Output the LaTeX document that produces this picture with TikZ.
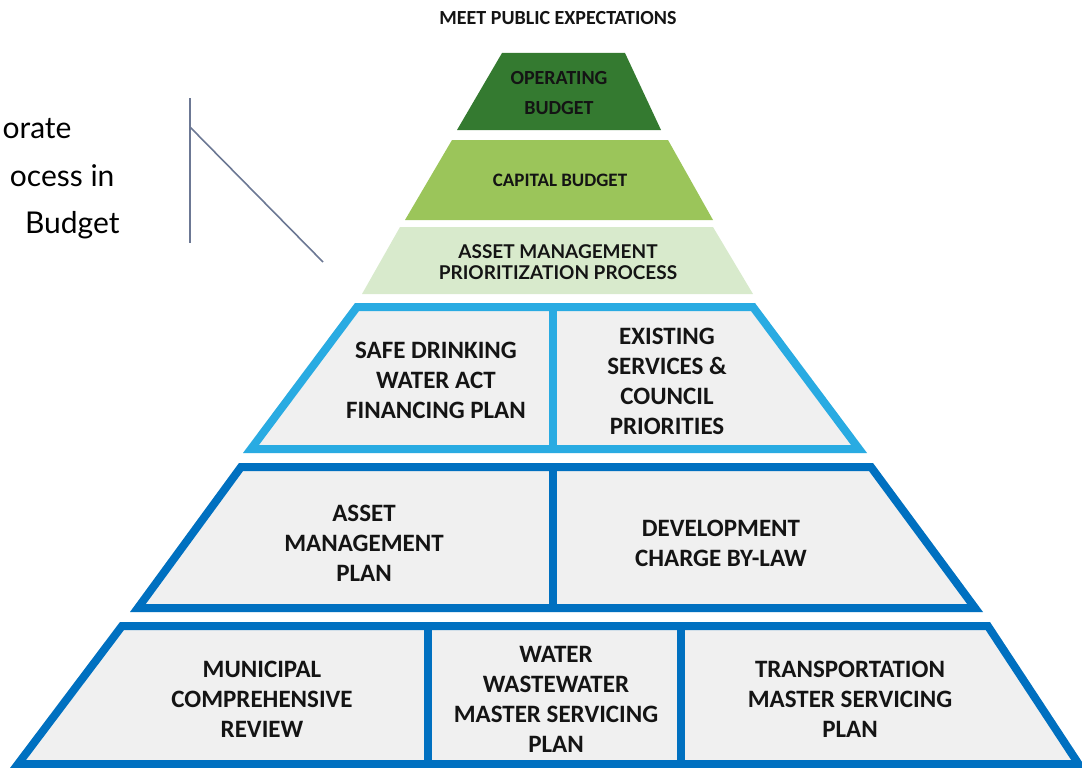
\documentclass[tikz,border=0pt]{standalone}
\usepackage{fontspec}
\setmainfont{Carlito}
\newfontfamily\notefont{Lato}
\usepackage{tikz}

\definecolor{opgreen}{RGB}{52,122,48}
\definecolor{capgreen}{RGB}{155,197,90}
\definecolor{palegreen}{RGB}{216,234,204}
\definecolor{skyblue}{RGB}{41,171,226}
\definecolor{deepblue}{RGB}{0,112,192}
\definecolor{panelgrey}{RGB}{240,240,240}
\definecolor{bracketgrey}{RGB}{108,120,148}

\tikzset{
  tiertext/.style={align=center, text=black!92, font=\bfseries\fontsize{25}{30}\selectfont},
  toptext/.style={align=center, text=black!92, font=\bfseries\fontsize{20}{30}\selectfont},
  prioritytext/.style={align=center, text=black!92, font=\notefont\bfseries\fontsize{19}{21}\selectfont},
  notetext/.style={anchor=base east, font=\notefont\fontsize{30}{35}\selectfont},
  bracket/.style={bracketgrey, line width=1.6pt}
}

\begin{document}
\begin{tikzpicture}[x=1pt, y=-1pt]
  \useasboundingbox (0,0) rectangle (1082,768);

  % top of the pyramid
  \node[toptext] (title) at (558,18) {MEET PUBLIC EXPECTATIONS};
  \fill[opgreen] (502,53) -- (625,53) -- (661,130) -- (457,130) -- cycle;
  \node[toptext] (opbudget) at (559,93) {OPERATING\\BUDGET};
  \fill[capgreen] (452,140) -- (668,140) -- (713,220) -- (405,220) -- cycle;
  \node[toptext, font=\bfseries\fontsize{19}{24}\selectfont] (capbudget) at (560,180) {CAPITAL BUDGET};
  \fill[palegreen] (400,227) -- (713,227) -- (753,294) -- (362,294) -- cycle;
  \node[prioritytext] (amprocess) at (558,262) {ASSET MANAGEMENT\\PRIORITIZATION PROCESS};

  % tier with two panels
  \begin{scope}
    \clip (355,303) -- (755,303) -- (867,453) -- (243,453) -- cycle;
    \fill[panelgrey] (355,303) -- (755,303) -- (867,453) -- (243,453) -- cycle;
    \draw[skyblue, line width=16pt] (355,303) -- (755,303) -- (867,453) -- (243,453) -- cycle;
    \draw[skyblue, line width=8pt] (553,303) -- (553,453);
  \end{scope}
  \node[tiertext] (sdwa) at (436,380) {SAFE DRINKING\\WATER ACT\\FINANCING PLAN};
  \node[tiertext] (existing) at (667,381) {EXISTING\\SERVICES \&\\COUNCIL\\PRIORITIES};

  % plans
  \begin{scope}
    \clip (239,463) -- (873,463) -- (983,612) -- (130,612) -- cycle;
    \fill[panelgrey] (239,463) -- (873,463) -- (983,612) -- (130,612) -- cycle;
    \draw[deepblue, line width=16pt] (239,463) -- (873,463) -- (983,612) -- (130,612) -- cycle;
    \draw[deepblue, line width=8pt] (553,463) -- (553,612);
  \end{scope}
  \node[tiertext] (amplan) at (364,543) {ASSET\\MANAGEMENT\\PLAN};
  \node[tiertext] (dcbylaw) at (721,543) {DEVELOPMENT\\CHARGE BY-LAW};

  % studies
  \begin{scope}
    \clip (120,622) -- (990,622) -- (1086,768) -- (10,768) -- cycle;
    \fill[panelgrey] (120,622) -- (990,622) -- (1086,768) -- (10,768) -- cycle;
    \draw[deepblue, line width=16pt] (120,622) -- (990,622) -- (1086,768) -- (10,768) -- cycle;
    \draw[deepblue, line width=8pt] (428,622) -- (428,768);
    \draw[deepblue, line width=8pt] (681,622) -- (681,768);
  \end{scope}
  \node[tiertext] (mcr) at (262,699) {MUNICIPAL\\COMPREHENSIVE\\REVIEW};
  \node[tiertext] (wwmsp) at (556,699) {WATER\\WASTEWATER\\MASTER SERVICING\\PLAN};
  \node[tiertext] (tmsp) at (850,699) {TRANSPORTATION\\MASTER SERVICING\\PLAN};

  % note on the left
  \node[notetext] (note1) at (75,138) {orate};
  \node[notetext] (note2) at (118,186) {ocess in};
  \node[notetext] (note3) at (123,233) {Budget};
  \coordinate (brtop) at (190,98);
  \coordinate (brbot) at (190,243);
  \coordinate (brknee) at (190,127);
  \coordinate (brtip) at (323,262);
  \draw[bracket] (brtop) -- (brbot);
  \draw[bracket] (brknee) -- (brtip);
\end{tikzpicture}
\end{document}
